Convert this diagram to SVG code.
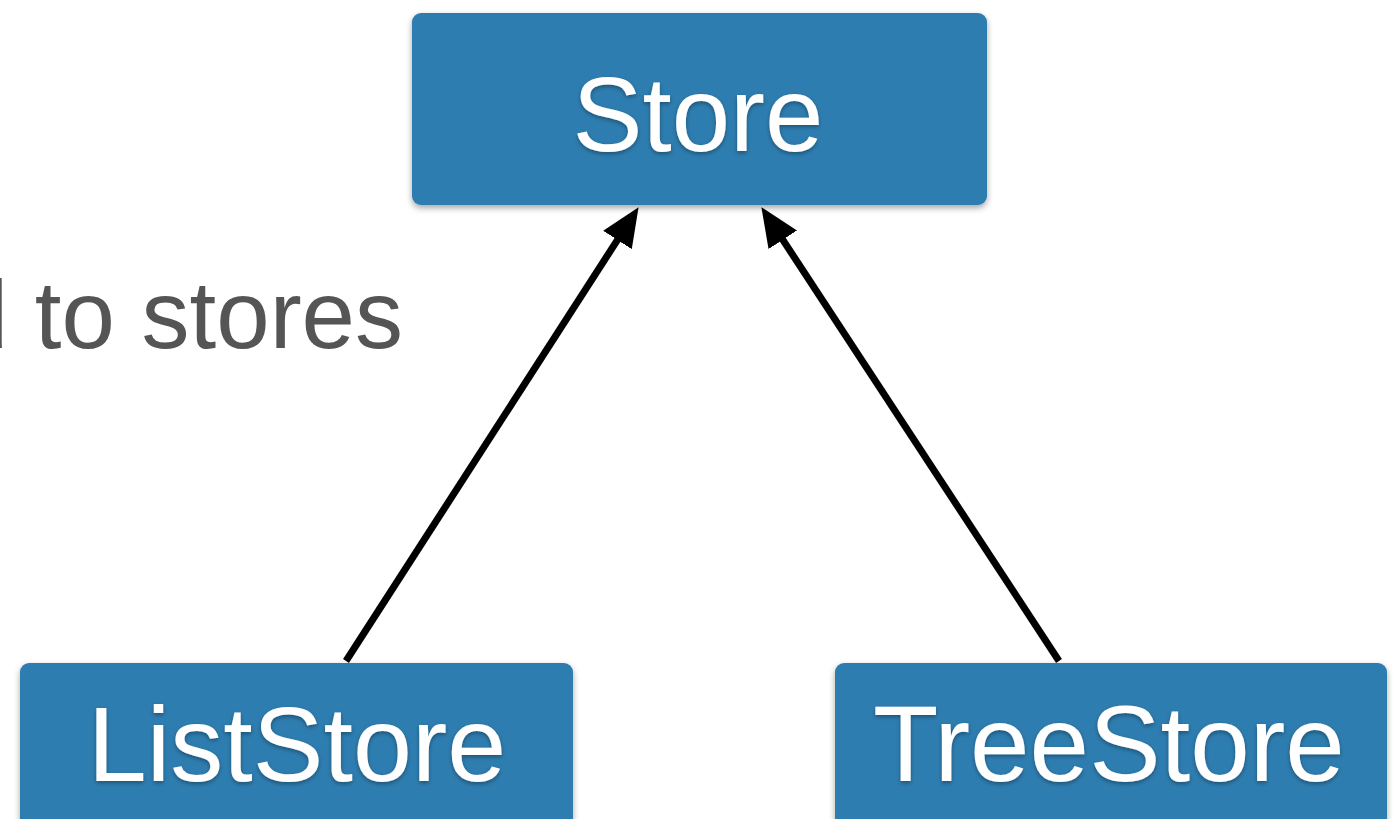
<svg xmlns="http://www.w3.org/2000/svg" width="1399" height="819" viewBox="0 0 1399 819">
  <defs>
    <filter id="shadow" x="-5%" y="-10%" width="110%" height="125%">
      <feDropShadow dx="0" dy="3" stdDeviation="3" flood-color="#000" flood-opacity="0.35"/>
    </filter>
    <filter id="tshadow" x="-5%" y="-10%" width="110%" height="130%">
      <feDropShadow dx="0" dy="2" stdDeviation="2" flood-color="#000" flood-opacity="0.35"/>
    </filter>
    <marker id="arrow" markerUnits="userSpaceOnUse" markerWidth="42" markerHeight="36" refX="18" refY="17" orient="auto">
      <path d="M0,0 L39,17 L0,34 z" fill="#000"/>
    </marker>
  </defs>
  <style>
    .box { fill: #2e7db0; filter: url(#shadow); }
    .label { font-family: "Liberation Sans", Arial, sans-serif; fill: #fff; text-anchor: middle; filter: url(#tshadow); }
    .conn { stroke: #000; stroke-width: 7; fill: none; marker-end: url(#arrow); }
    .caption { font-family: "Liberation Sans", Arial, sans-serif; fill: #555; font-size: 96px; text-anchor: end; }
  </style>
  <rect width="1399" height="819" fill="#fff"/>
  <text class="caption" x="403" y="348">d to stores</text>
  <g id="connectors">
    <line class="conn" x1="346" y1="661" x2="627.2" y2="224.8"/>
    <line class="conn" x1="1059" y1="661" x2="772.9" y2="224.7"/>
  </g>
  <g id="store">
    <rect class="box" x="412" y="13" width="575" height="192" rx="9"/>
    <text class="label" x="698" y="151" font-size="105">Store</text>
  </g>
  <g id="liststore">
    <rect class="box" x="20" y="663" width="553" height="170" rx="9"/>
    <text class="label" x="297" y="781" font-size="106">ListStore</text>
  </g>
  <g id="treestore">
    <rect class="box" x="835" y="663" width="552" height="170" rx="9"/>
    <text class="label" x="1109" y="781" font-size="107">TreeStore</text>
  </g>
</svg>
